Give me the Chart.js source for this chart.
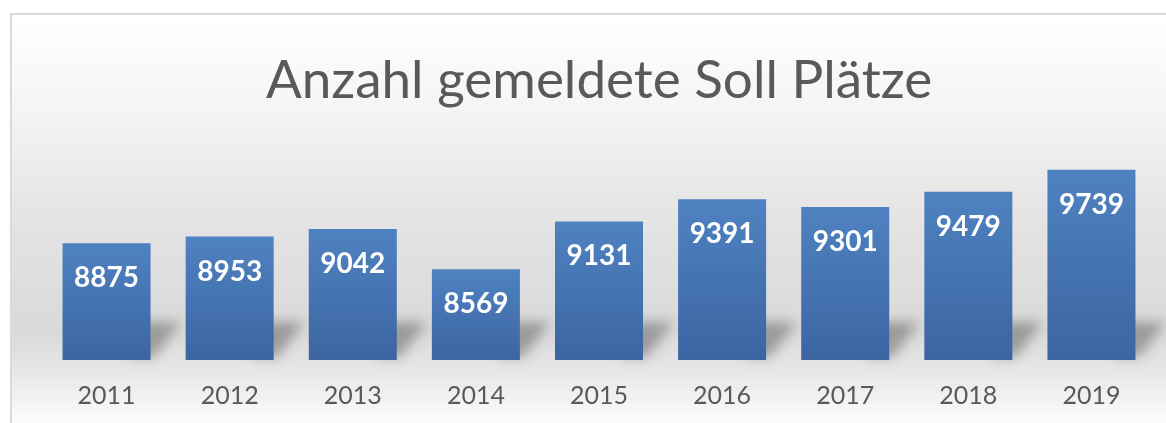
<!DOCTYPE html>
<html>
<head>
<meta charset="utf-8">
<script src="https://cdn.jsdelivr.net/npm/chart.js@4.4.1/dist/chart.umd.min.js"></script>
<style>
  html, body { margin: 0; padding: 0; background: #ffffff; }
  #sollChart { display: block; }
</style>
</head>
<body>
<canvas id="sollChart" width="1166" height="423"></canvas>
<script>

// chart data
const years = ['2011', '2012', '2013', '2014', '2015', '2016', '2017', '2018', '2019'];
const sollPlaetze = [8875, 8953, 9042, 8569, 9131, 9391, 9301, 9479, 9739];
const chartTitle = 'Anzahl gemeldete Soll Plätze';

const BAR_PCT = 0.715;


// gray panel with the thin frame on left + top, plus bar shadows
const panelBackground = {
  id: 'panelBackground',
  beforeDraw(chart) {
    const ctx = chart.ctx;
    const w = chart.width, h = chart.height;
    ctx.save();
    let grd = ctx.createLinearGradient(0, 15, 0, h);
    grd.addColorStop(0, '#ffffff');
    grd.addColorStop(0.22, '#f5f5f5');
    grd.addColorStop(0.5, '#e4e4e4');
    grd.addColorStop(0.78, '#d9d9d9');
    grd.addColorStop(0.87, '#e6e6e6');
    grd.addColorStop(1, '#fcfcfc');
    ctx.fillStyle = grd;
    ctx.fillRect(11, 15, w - 11, h - 15);

    ctx.strokeStyle = '#d9d9d9';
    ctx.lineWidth = 2;
    ctx.beginPath();
    ctx.moveTo(11, h);
    ctx.lineTo(11, 14);
    ctx.lineTo(w, 14);
    ctx.stroke();

    // soft slanted shadow to the right of every bar foot
    const xs = chart.scales.x;
    const area = chart.chartArea;
    if (xs && area) {
      const half = xs.width / years.length * BAR_PCT / 2;
      const b = area.bottom;
      ctx.filter = 'blur(6px)';
      ctx.fillStyle = 'rgba(70,70,70,0.42)';
      years.forEach((yr, i) => {
        const r = xs.getPixelForValue(i) + half;
        ctx.beginPath();
        ctx.moveTo(r - 20, b - 3);
        ctx.lineTo(r + 4, b - 3);
        ctx.lineTo(r + 30, b - 38);
        ctx.lineTo(r - 20, b - 38);
        ctx.closePath();
        ctx.fill();
      });
      ctx.filter = 'none';
    }
    ctx.restore();
  }
};

// white values inside the bars
const valueLabels = {
  id: 'valueLabels',
  afterDatasetsDraw(chart) {
    const ctx = chart.ctx;
    const meta = chart.getDatasetMeta(0);
    ctx.save();
    ctx.font = 'bold 28px Lato';
    ctx.fillStyle = '#ffffff';
    ctx.textAlign = 'center';
    ctx.textBaseline = 'middle';
    meta.data.forEach((bar, i) => {
      ctx.fillText(String(sollPlaetze[i]), bar.x, bar.y + 35);
    });
    ctx.restore();
  }
};


function barFill(context){
  const chart = context.chart;
  const area = chart.chartArea;
  if (!area) return '#4472c4';
  const yScale = chart.scales.y;
  const top = yScale.getPixelForValue(sollPlaetze[context.dataIndex]);
  const bottom = yScale.getPixelForValue(yScale.min);
  const g = chart.ctx.createLinearGradient(0, top, 0, bottom);
  g.addColorStop(0, '#4f82c1');
  g.addColorStop(1, '#3c65a2');
  return g;
}


new Chart(
  document.getElementById('sollChart'),
  {
    type: 'bar',
    data: {
      labels: years,
      datasets: [
        {
          label: 'Soll Plätze',
          data: sollPlaetze,
          backgroundColor: barFill,
          borderWidth: 0,
          barPercentage: BAR_PCT,
          categoryPercentage: 1.0
        }
      ]
    },
    plugins: [panelBackground, valueLabels],
    options: {
      responsive: false,
      devicePixelRatio: 1,
      animation: false,
      layout: {
        padding: { left: 45, right: 13, top: 0, bottom: 0 }
      },
      plugins: {
        legend: { display: false },
        tooltip: { enabled: false },
        title: {
          display: true,
          text: chartTitle,
          color: '#595959',
          font: { family: 'Lato', size: 53, weight: 'normal' },
          padding: { top: 49, bottom: 35 }
        }
      },
      scales: {
        x: {
          grid: { display: false, drawTicks: false },
          border: { display: false },
          ticks: {
            color: '#595959',
            font: { family: 'Lato', size: 25 },
            padding: 21
          },
          afterFit: (scale) => { scale.height = 63; }
        },
        y: {
          display: false,
          min: 7500,
          max: 10000
        }
      }
    }
  }
);

</script>
</body>
</html>
